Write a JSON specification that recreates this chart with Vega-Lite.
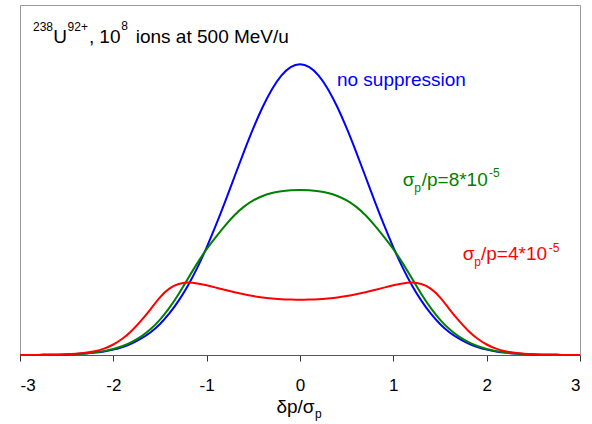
{
  "$schema": "https://vega.github.io/schema/vega-lite/v6.json",
  "width": 560,
  "height": 350,
  "autosize": "none",
  "padding": {"left": 20, "top": 5, "right": 12, "bottom": 69},
  "background": "white",
  "config": {"view": {"stroke": "#999999", "strokeWidth": 1}, "font": "Liberation Sans"},
  "datasets": {
    "curves": [
      {"x": -3.0, "blue": 0.000, "green": 0.000, "red": 0.000},
      {"x": -2.9, "blue": 0.000, "green": 0.000, "red": 0.000},
      {"x": -2.8, "blue": 0.000, "green": 0.000, "red": 0.000},
      {"x": -2.7, "blue": 0.001, "green": 0.001, "red": 0.001},
      {"x": -2.6, "blue": 0.001, "green": 0.001, "red": 0.001},
      {"x": -2.5, "blue": 0.002, "green": 0.002, "red": 0.002},
      {"x": -2.4, "blue": 0.003, "green": 0.003, "red": 0.004},
      {"x": -2.3, "blue": 0.005, "green": 0.005, "red": 0.007},
      {"x": -2.2, "blue": 0.008, "green": 0.008, "red": 0.012},
      {"x": -2.1, "blue": 0.012, "green": 0.013, "red": 0.021},
      {"x": -2.0, "blue": 0.018, "green": 0.020, "red": 0.035},
      {"x": -1.9, "blue": 0.027, "green": 0.030, "red": 0.055},
      {"x": -1.8, "blue": 0.039, "green": 0.044, "red": 0.083},
      {"x": -1.7, "blue": 0.056, "green": 0.063, "red": 0.118},
      {"x": -1.6, "blue": 0.077, "green": 0.088, "red": 0.157},
      {"x": -1.5, "blue": 0.105, "green": 0.120, "red": 0.200},
      {"x": -1.4, "blue": 0.141, "green": 0.160, "red": 0.230},
      {"x": -1.3, "blue": 0.185, "green": 0.208, "red": 0.245},
      {"x": -1.2, "blue": 0.237, "green": 0.262, "red": 0.250},
      {"x": -1.1, "blue": 0.298, "green": 0.316, "red": 0.246},
      {"x": -1.0, "blue": 0.368, "green": 0.364, "red": 0.239},
      {"x": -0.9, "blue": 0.445, "green": 0.405, "red": 0.231},
      {"x": -0.8, "blue": 0.527, "green": 0.445, "red": 0.223},
      {"x": -0.7, "blue": 0.613, "green": 0.481, "red": 0.215},
      {"x": -0.6, "blue": 0.698, "green": 0.510, "red": 0.208},
      {"x": -0.5, "blue": 0.779, "green": 0.531, "red": 0.202},
      {"x": -0.4, "blue": 0.852, "green": 0.546, "red": 0.197},
      {"x": -0.3, "blue": 0.914, "green": 0.556, "red": 0.194},
      {"x": -0.2, "blue": 0.961, "green": 0.562, "red": 0.191},
      {"x": -0.1, "blue": 0.990, "green": 0.565, "red": 0.190},
      {"x": 0.0, "blue": 1.000, "green": 0.566, "red": 0.189},
      {"x": 0.1, "blue": 0.990, "green": 0.565, "red": 0.190},
      {"x": 0.2, "blue": 0.961, "green": 0.562, "red": 0.191},
      {"x": 0.3, "blue": 0.914, "green": 0.556, "red": 0.194},
      {"x": 0.4, "blue": 0.852, "green": 0.546, "red": 0.197},
      {"x": 0.5, "blue": 0.779, "green": 0.531, "red": 0.202},
      {"x": 0.6, "blue": 0.698, "green": 0.510, "red": 0.208},
      {"x": 0.7, "blue": 0.613, "green": 0.481, "red": 0.215},
      {"x": 0.8, "blue": 0.527, "green": 0.445, "red": 0.223},
      {"x": 0.9, "blue": 0.445, "green": 0.405, "red": 0.231},
      {"x": 1.0, "blue": 0.368, "green": 0.364, "red": 0.239},
      {"x": 1.1, "blue": 0.298, "green": 0.316, "red": 0.246},
      {"x": 1.2, "blue": 0.237, "green": 0.262, "red": 0.250},
      {"x": 1.3, "blue": 0.185, "green": 0.208, "red": 0.245},
      {"x": 1.4, "blue": 0.141, "green": 0.160, "red": 0.230},
      {"x": 1.5, "blue": 0.105, "green": 0.120, "red": 0.200},
      {"x": 1.6, "blue": 0.077, "green": 0.088, "red": 0.157},
      {"x": 1.7, "blue": 0.056, "green": 0.063, "red": 0.118},
      {"x": 1.8, "blue": 0.039, "green": 0.044, "red": 0.083},
      {"x": 1.9, "blue": 0.027, "green": 0.030, "red": 0.055},
      {"x": 2.0, "blue": 0.018, "green": 0.020, "red": 0.035},
      {"x": 2.1, "blue": 0.012, "green": 0.013, "red": 0.021},
      {"x": 2.2, "blue": 0.008, "green": 0.008, "red": 0.012},
      {"x": 2.3, "blue": 0.005, "green": 0.005, "red": 0.007},
      {"x": 2.4, "blue": 0.003, "green": 0.003, "red": 0.004},
      {"x": 2.5, "blue": 0.002, "green": 0.002, "red": 0.002},
      {"x": 2.6, "blue": 0.001, "green": 0.001, "red": 0.001},
      {"x": 2.7, "blue": 0.001, "green": 0.001, "red": 0.001},
      {"x": 2.8, "blue": 0.000, "green": 0.000, "red": 0.000},
      {"x": 2.9, "blue": 0.000, "green": 0.000, "red": 0.000},
      {"x": 3.0, "blue": 0.000, "green": 0.000, "red": 0.000}
    ],
    "labels": [
      {"t": "238", "x": -2.861, "y": 1.111, "k": "small", "g": "k"},
      {"t": "U", "x": -2.643, "y": 1.071, "k": "main", "g": "k"},
      {"t": "92+", "x": -2.49, "y": 1.111, "k": "small", "g": "k"},
      {"t": ",", "x": -2.26, "y": 1.071, "k": "main", "g": "k"},
      {"t": "10", "x": -2.15, "y": 1.071, "k": "main", "g": "k"},
      {"t": "8", "x": -1.915, "y": 1.114, "k": "small", "g": "k"},
      {"t": "ions at 500 MeV/u", "x": -1.76, "y": 1.071, "k": "main", "g": "k"},
      {"t": "no suppression", "x": 0.396, "y": 0.922, "k": "main", "g": "b"},
      {"t": "σ", "x": 1.100, "y": 0.579, "k": "main", "g": "g"},
      {"t": "p", "x": 1.225, "y": 0.559, "k": "small", "g": "g"},
      {"t": "/p=8*10", "x": 1.304, "y": 0.579, "k": "main", "g": "g"},
      {"t": "-5", "x": 2.025, "y": 0.610, "k": "small", "g": "g"},
      {"t": "σ", "x": 1.743, "y": 0.326, "k": "main", "g": "r"},
      {"t": "p", "x": 1.868, "y": 0.305, "k": "small", "g": "r"},
      {"t": "/p=4*10", "x": 1.939, "y": 0.326, "k": "main", "g": "r"},
      {"t": "-5", "x": 2.665, "y": 0.353, "k": "small", "g": "r"},
      {"t": "δp/σ", "x": -0.253, "y": -0.199, "k": "main", "g": "k"},
      {"t": "p", "x": 0.161, "y": -0.216, "k": "small", "g": "k"}
    ]
  },
  "layer": [
    {
      "mark": {"type": "rule", "color": "#555555", "strokeWidth": 1},
      "encoding": {
        "x": {"datum": 0, "type": "quantitative", "scale": {"domain": [-3, 3], "nice": false}}
      }
    },
    {
      "data": {"name": "curves"},
      "mark": {"type": "line", "color": "#0000ff", "strokeWidth": 2, "interpolate": "basis"},
      "encoding": {
        "x": {
          "field": "x", "type": "quantitative",
          "scale": {"domain": [-3, 3], "nice": false},
          "axis": {
            "values": [-3, -2, -1, 0, 1, 2, 3],
            "labelExpr": "'' + datum.value",
            "title": null, "grid": false,
            "tickSize": 6, "tickColor": "#333333", "domainColor": "#555555",
            "labelFont": "Liberation Sans", "labelFontSize": 17, "labelColor": "#000000",
            "labelPadding": 16
          }
        },
        "y": {"field": "blue", "type": "quantitative", "scale": {"domain": [0, 1.2], "nice": false}, "axis": null}
      }
    },
    {
      "data": {"name": "curves"},
      "mark": {"type": "line", "color": "#008000", "strokeWidth": 2, "interpolate": "basis"},
      "encoding": {
        "x": {"field": "x", "type": "quantitative"},
        "y": {"field": "green", "type": "quantitative"}
      }
    },
    {
      "data": {"name": "curves"},
      "mark": {"type": "line", "color": "#ff0000", "strokeWidth": 2, "interpolate": "basis"},
      "encoding": {
        "x": {"field": "x", "type": "quantitative"},
        "y": {"field": "red", "type": "quantitative"}
      }
    },
    {
      "data": {"name": "labels"},
      "transform": [{"filter": "datum.k === 'main'"}],
      "mark": {"type": "text", "font": "Liberation Sans", "fontSize": 19, "align": "left", "baseline": "alphabetic"},
      "encoding": {
        "x": {"field": "x", "type": "quantitative"},
        "y": {"field": "y", "type": "quantitative"},
        "text": {"field": "t"},
        "color": {"field": "g", "type": "nominal", "legend": null,
          "scale": {"domain": ["k", "b", "g", "r"], "range": ["#000000", "#0000ff", "#008000", "#ff0000"]}}
      }
    },
    {
      "data": {"name": "labels"},
      "transform": [{"filter": "datum.k === 'small'"}],
      "mark": {"type": "text", "font": "Liberation Sans", "fontSize": 12, "align": "left", "baseline": "alphabetic"},
      "encoding": {
        "x": {"field": "x", "type": "quantitative"},
        "y": {"field": "y", "type": "quantitative"},
        "text": {"field": "t"},
        "color": {"field": "g", "type": "nominal", "legend": null}
      }
    }
  ]
}
